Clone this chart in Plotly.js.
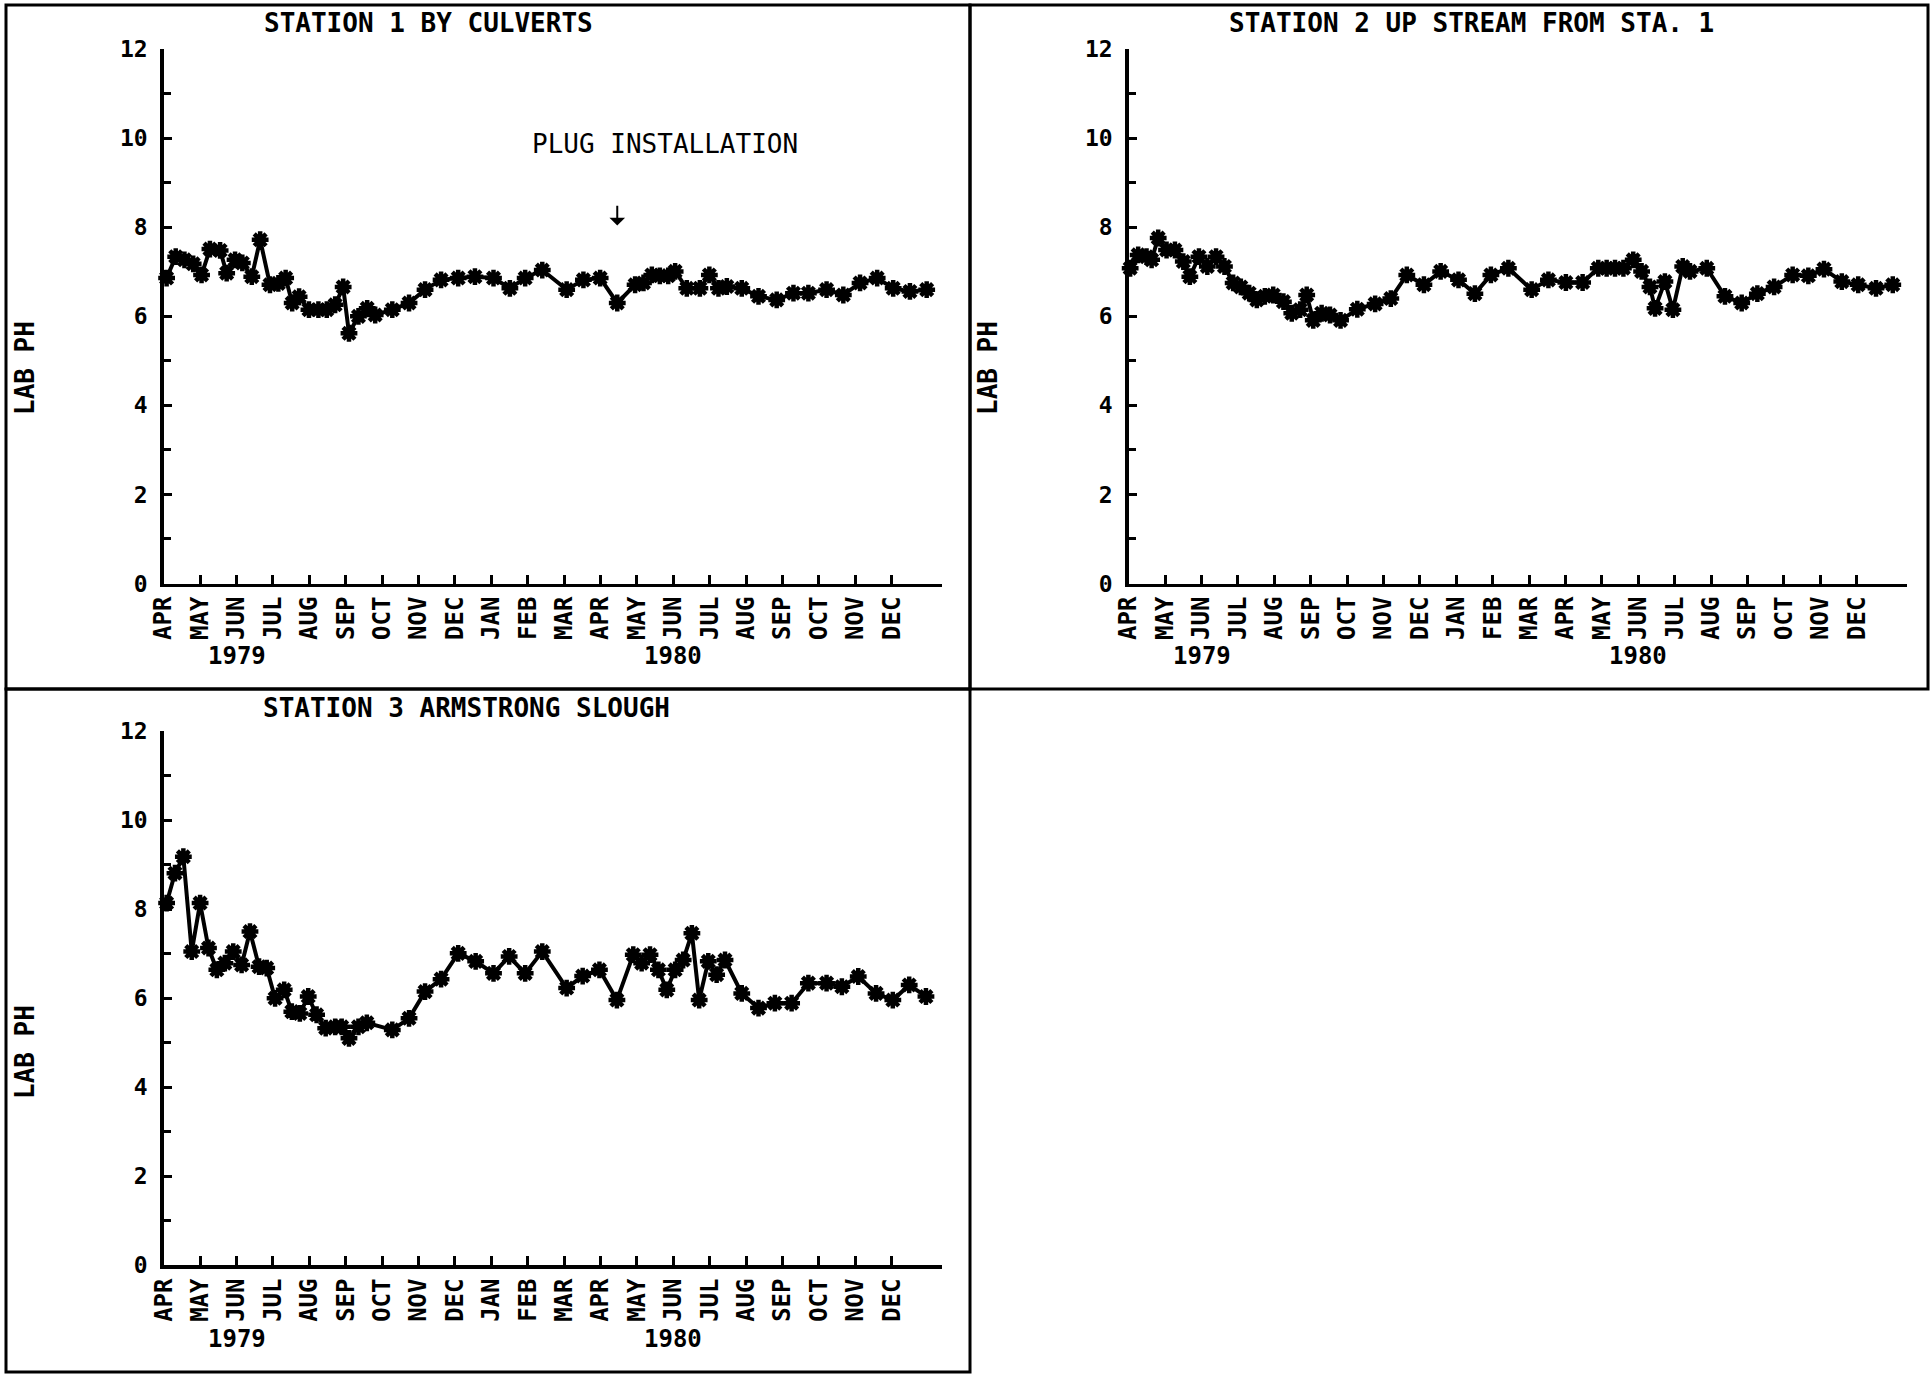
<!DOCTYPE html>
<html>
<head>
<meta charset="utf-8">
<script src="https://cdn.plot.ly/plotly-3.0.1.min.js"></script>
<style>html,body{margin:0;padding:0;background:#fff;}#chart{width:1930px;height:1375px;}</style>
</head>
<body>
<div id="chart"></div>
<script>
// Month tick labels (APR 1979 .. DEC 1980), x values are months since start of APR 1979
const monthLabels = ['APR','MAY','JUN','JUL','AUG','SEP','OCT','NOV','DEC','JAN','FEB','MAR','APR','MAY','JUN','JUL','AUG','SEP','OCT','NOV','DEC'];
const yearLabels = ['1979', '1980'];
const yearPositions = [2, 14];

const titles = ['STATION 1 BY CULVERTS', 'STATION 2 UP STREAM FROM STA. 1', 'STATION 3 ARMSTRONG SLOUGH'];
const yTitle = 'LAB PH';
const plugLabel = 'PLUG INSTALLATION';
const plugMonth = 12.46;

const st1_x = [0.08,0.33,0.57,0.81,1.04,1.27,1.55,1.73,1.96,2.16,2.42,2.65,2.92,3.15,3.35,3.53,3.72,3.99,4.25,4.48,4.71,4.93,5.09,5.35,5.59,5.81,6.28,6.74,7.18,7.62,8.09,8.55,9.06,9.51,9.93,10.40,11.07,11.53,11.99,12.46,12.95,13.18,13.41,13.63,13.86,14.05,14.37,14.73,14.99,15.24,15.47,15.88,16.34,16.84,17.30,17.71,18.21,18.67,19.13,19.60,20.04,20.50,20.96];
const st1_ph = [6.86,7.34,7.27,7.18,6.93,7.51,7.48,6.97,7.27,7.20,6.89,7.72,6.71,6.74,6.86,6.30,6.44,6.15,6.15,6.15,6.26,6.66,5.62,6.00,6.18,6.03,6.15,6.30,6.60,6.82,6.86,6.89,6.86,6.63,6.86,7.04,6.60,6.82,6.86,6.30,6.71,6.75,6.93,6.91,6.91,7.01,6.63,6.63,6.93,6.63,6.67,6.63,6.45,6.37,6.52,6.52,6.60,6.48,6.75,6.86,6.63,6.56,6.60];

const st2_x = [0.04,0.26,0.49,0.63,0.81,1.04,1.27,1.50,1.68,1.93,2.16,2.40,2.63,2.87,3.08,3.31,3.52,3.74,3.97,4.25,4.48,4.71,4.89,5.07,5.30,5.53,5.82,6.28,6.77,7.20,7.64,8.11,8.57,9.06,9.51,9.95,10.43,11.07,11.53,12.01,12.47,12.90,13.13,13.36,13.59,13.86,14.09,14.32,14.46,14.73,14.95,15.22,15.42,15.88,16.38,16.84,17.27,17.73,18.24,18.67,19.10,19.59,20.04,20.53,20.99];
const st2_ph = [7.08,7.38,7.34,7.27,7.76,7.49,7.49,7.23,6.89,7.34,7.12,7.34,7.12,6.75,6.66,6.52,6.37,6.45,6.48,6.33,6.07,6.15,6.48,5.91,6.07,6.03,5.91,6.16,6.28,6.40,6.93,6.71,7.01,6.82,6.51,6.93,7.08,6.60,6.82,6.76,6.76,7.08,7.08,7.08,7.08,7.27,7.01,6.66,6.18,6.78,6.15,7.12,7.01,7.08,6.45,6.30,6.51,6.66,6.93,6.91,7.06,6.78,6.71,6.63,6.71];

const st3_x = [0.08,0.31,0.54,0.77,1.00,1.23,1.46,1.68,1.91,2.14,2.37,2.62,2.83,3.06,3.31,3.52,3.74,3.97,4.20,4.45,4.71,4.89,5.09,5.35,5.58,6.28,6.74,7.18,7.62,8.09,8.57,9.06,9.49,9.93,10.40,11.07,11.51,11.97,12.45,12.90,13.13,13.36,13.59,13.82,14.05,14.27,14.51,14.71,14.96,15.19,15.42,15.88,16.34,16.79,17.25,17.71,18.21,18.63,19.08,19.57,20.03,20.48,20.94];
const st3_ph = [8.14,8.81,9.18,7.05,8.14,7.13,6.64,6.79,7.05,6.75,7.50,6.71,6.68,6.00,6.19,5.70,5.66,6.04,5.63,5.33,5.36,5.36,5.10,5.36,5.45,5.29,5.55,6.15,6.43,7.01,6.83,6.56,6.94,6.56,7.05,6.23,6.50,6.64,5.96,6.98,6.79,6.98,6.64,6.19,6.64,6.86,7.46,5.96,6.83,6.53,6.86,6.11,5.78,5.89,5.89,6.34,6.34,6.26,6.49,6.11,5.96,6.30,6.04];

const W = 1930, H = 1375;
const px = v => v / W;
const py = v => 1 - v / H;

const FONT = 'DejaVu Sans Mono';
const tickVals = monthLabels.map((_, i) => i);

function trace(x, y, xa, ya) {
  return {
    x: x, y: y, xaxis: xa, yaxis: ya, type: 'scatter', mode: 'lines+markers',
    line: {color: 'black', width: 4},
    marker: {symbol: 'asterisk-open', size: 14, color: 'black', line: {color: 'black', width: 4.5}},
    cliponaxis: false, showlegend: false, hoverinfo: 'x+y'
  };
}

function xAxis(domain, anchor) {
  return {
    domain: domain, anchor: anchor, range: [0, 21.37],
    showline: true, linewidth: 3.5, linecolor: 'black', mirror: false,
    showgrid: false, zeroline: false,
    ticks: 'inside', ticklen: 9, tickwidth: 3, tickcolor: 'black',
    tickmode: 'array', tickvals: tickVals, ticktext: monthLabels, tickangle: -90,
    tickfont: {family: FONT, size: 24, weight: 'bold', color: 'black'},
    fixedrange: true
  };
}
function yAxis(domain, anchor) {
  return {
    domain: domain, anchor: anchor, range: [0, 12],
    showline: true, linewidth: 3.5, linecolor: 'black',
    showgrid: false, zeroline: false,
    tickmode: 'linear', tick0: 0, dtick: 2,
    ticks: 'inside', ticklen: 8, tickwidth: 3, tickcolor: 'black',
    minor: {dtick: 1, tick0: 0, ticks: 'inside', ticklen: 7, tickwidth: 3, tickcolor: 'black', showgrid: false},
    ticklabelstandoff: 8,
    tickfont: {family: FONT, size: 23, weight: 'bold', color: 'black'},
    fixedrange: true
  };
}

const xd1 = [px(163.7), px(941.6)];
const xd2 = [px(1128.7), px(1906.6)];
const ydTop = [py(583.5), py(49.2)];
const ydBot = [py(1265.4), py(731.2)];

const data = [
  trace(st1_x, st1_ph, 'x', 'y'),
  trace(st2_x, st2_ph, 'x2', 'y2'),
  trace(st3_x, st3_ph, 'x3', 'y3')
];

const titleFont = {family: FONT, size: 26, weight: 'bold', color: 'black'};
const labFont = {family: FONT, size: 24, weight: 'bold', color: 'black'};
const yTitleFont = {family: FONT, size: 26, weight: 'bold', color: 'black'};

const annotations = [
  {text: titles[0], xref: 'paper', yref: 'paper', x: px(428), y: py(23), xanchor: 'center', yanchor: 'middle', showarrow: false, font: titleFont},
  {text: titles[1], xref: 'paper', yref: 'paper', x: px(1471), y: py(23), xanchor: 'center', yanchor: 'middle', showarrow: false, font: titleFont},
  {text: titles[2], xref: 'paper', yref: 'paper', x: px(466), y: py(708), xanchor: 'center', yanchor: 'middle', showarrow: false, font: titleFont},
  {text: yTitle, xref: 'paper', yref: 'paper', x: px(25), y: py(368), textangle: -90, xanchor: 'center', yanchor: 'middle', showarrow: false, font: yTitleFont},
  {text: yTitle, xref: 'paper', yref: 'paper', x: px(988), y: py(368), textangle: -90, xanchor: 'center', yanchor: 'middle', showarrow: false, font: yTitleFont},
  {text: yTitle, xref: 'paper', yref: 'paper', x: px(25), y: py(1052), textangle: -90, xanchor: 'center', yanchor: 'middle', showarrow: false, font: yTitleFont},
  {text: plugLabel, xref: 'x', yref: 'y', x: 13.77, y: 9.88, xanchor: 'center', yanchor: 'middle', showarrow: false, font: {family: FONT, size: 26, color: 'black'}},
  {text: '', xref: 'x', yref: 'y', x: plugMonth, y: 8.04, axref: 'x', ayref: 'y', ax: plugMonth, ay: 8.52, showarrow: true, arrowhead: 1, arrowsize: 1.3, arrowwidth: 2, arrowcolor: 'black', standoff: 0}
];
[['x', py(656)], ['x2', py(656)], ['x3', py(1339)]].forEach(([xr, yy]) => {
  yearLabels.forEach((t, i) => {
    annotations.push({text: t, xref: xr, yref: 'paper', x: yearPositions[i], y: yy, xanchor: 'center', yanchor: 'middle', showarrow: false, font: labFont});
  });
});

const bl = {color: 'black', width: 3};
const shapes = [
  {type: 'rect', xref: 'paper', yref: 'paper', x0: px(6), x1: px(970), y0: py(689), y1: py(5), line: bl},
  {type: 'rect', xref: 'paper', yref: 'paper', x0: px(970), x1: px(1928), y0: py(689), y1: py(5), line: bl},
  {type: 'rect', xref: 'paper', yref: 'paper', x0: px(6), x1: px(970), y0: py(1372), y1: py(689), line: bl}
];

const layout = {
  width: W, height: H,
  margin: {l: 0, r: 0, t: 0, b: 0, pad: 0},
  paper_bgcolor: 'white', plot_bgcolor: 'white',
  showlegend: false,
  xaxis: xAxis(xd1, 'y'), yaxis: yAxis(ydTop, 'x'),
  xaxis2: xAxis(xd2, 'y2'), yaxis2: yAxis(ydTop, 'x2'),
  xaxis3: xAxis(xd1, 'y3'), yaxis3: yAxis(ydBot, 'x3'),
  annotations: annotations,
  shapes: shapes
};

Plotly.newPlot('chart', data, layout, {displayModeBar: false, staticPlot: true});
</script>
</body>
</html>
